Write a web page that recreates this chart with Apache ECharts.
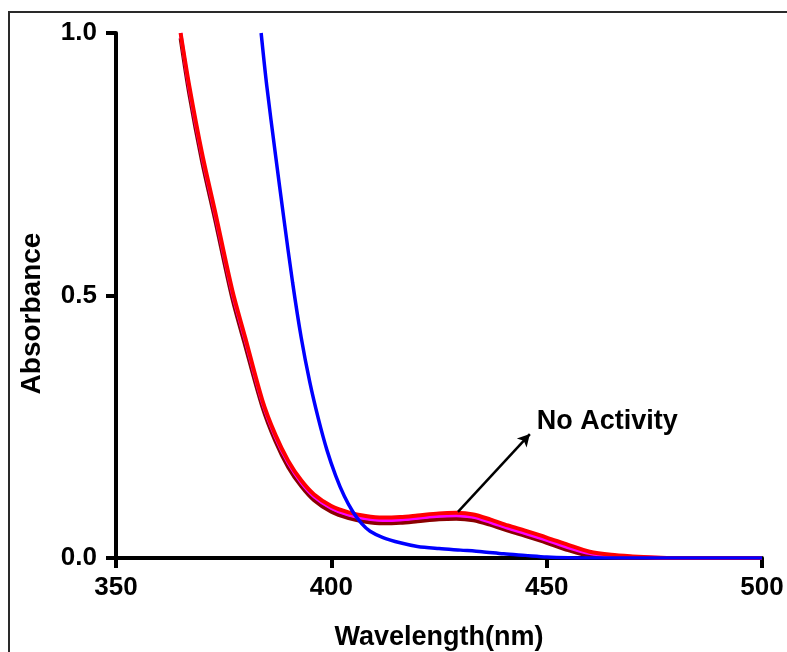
<!DOCTYPE html>
<html>
<head>
<meta charset="utf-8">
<script src="https://cdn.jsdelivr.net/npm/echarts@6/dist/echarts.min.js"></script>
<style>
  html, body { margin: 0; padding: 0; background: #fff; }
  #frame { position: absolute; left: 8px; top: 11px; width: 800px; height: 700px;
           border-left: 2px solid #2a2a2a; border-top: 2px solid #2a2a2a; }
  #chart { position: absolute; left: 0; top: 0; width: 787px; height: 652px; }
</style>
</head>
<body>
<div id="frame"></div>
<div id="chart"></div>
<script>
// wavelength (nm) / absorbance
const wlRed = [365, 367, 370, 373, 377, 380, 384, 387, 390, 393, 396, 400, 404, 408, 412, 416, 420, 425, 429, 433, 437, 441, 445, 450, 455, 460, 465, 470, 475, 480, 500];
const absRed = [1.0, 0.90, 0.77, 0.66, 0.51, 0.42, 0.30, 0.235, 0.185, 0.148, 0.121, 0.099, 0.087, 0.080, 0.077, 0.078, 0.081, 0.085, 0.086, 0.083, 0.073, 0.062, 0.052, 0.039, 0.025, 0.012, 0.006, 0.003, 0.001, 0, 0];
const absMagenta = [1.0, 0.895, 0.765, 0.655, 0.505, 0.415, 0.296, 0.231, 0.181, 0.144, 0.117, 0.095, 0.082, 0.075, 0.072, 0.073, 0.076, 0.080, 0.081, 0.078, 0.068, 0.057, 0.047, 0.034, 0.020, 0.009, 0.004, 0.002, 0.001, 0, 0];
const absMaroon = [0.99, 0.885, 0.755, 0.645, 0.495, 0.405, 0.288, 0.223, 0.173, 0.137, 0.110, 0.088, 0.076, 0.069, 0.066, 0.067, 0.070, 0.074, 0.075, 0.072, 0.063, 0.052, 0.042, 0.029, 0.015, 0.004, 0.001, 0, 0, 0, 0];

const wlBlue = [383.7, 385, 387, 389, 391, 393, 395, 397, 399, 401, 403, 405, 407, 409, 412, 416, 420, 425, 430, 435, 440, 445, 450, 455, 460, 500];
const absBlue = [1.0, 0.90, 0.77, 0.645, 0.525, 0.42, 0.335, 0.265, 0.205, 0.157, 0.118, 0.088, 0.066, 0.051, 0.039, 0.029, 0.022, 0.018, 0.015, 0.012, 0.008, 0.005, 0.002, 0.0005, 0, 0];

const xTicks = [350, 400, 450, 500];

// arrow + label for the annotation, in data units
const arrowFrom = [429.4, 0.088];
const arrowTo = [446.1, 0.236];
const noteAt = [447.7, 0.26];

const FONT = 'Liberation Sans, Arial, sans-serif';

const pairs = (xs, ys) => xs.map((x, i) => [x, ys[i]]);

const chart = echarts.init(document.getElementById('chart'));

const lineSeries = (name, xs, ys, color, width) => ({
  name: name,
  type: 'line',
  data: pairs(xs, ys),
  showSymbol: false,
  smooth: 0.3,
  lineStyle: { color: color, width: width },
  itemStyle: { color: color },
  z: 2
});

const option = {
  animation: false,
  backgroundColor: 'transparent',
  grid: { left: 116, right: 25, top: 33, bottom: 94, containLabel: false, outerBoundsMode: 'none' },
  xAxis: {
    type: 'value',
    min: 350, max: 500, interval: 50,
    name: 'Wavelength(nm)',
    nameLocation: 'middle',
    nameGap: 66,
    nameTextStyle: { fontSize: 27, fontWeight: 'bold', color: '#000', fontFamily: FONT },
    axisLine: { lineStyle: { color: '#000', width: 4 } },
    axisTick: { length: 10, lineStyle: { color: '#000', width: 4 } },
    axisLabel: {
      margin: 17, fontSize: 26, fontWeight: 'bold', color: '#000', fontFamily: FONT,
      customValues: xTicks
    },
    splitLine: { show: false }
  },
  yAxis: {
    type: 'value',
    min: 0, max: 1, interval: 0.5,
    name: 'Absorbance',
    nameLocation: 'middle',
    nameRotate: 90,
    nameGap: 70,
    nameTextStyle: { fontSize: 28, fontWeight: 'bold', color: '#000', fontFamily: FONT, padding: [0, 36, 0, 0] },
    axisLine: { lineStyle: { color: '#000', width: 4 } },
    axisTick: { length: 10, lineStyle: { color: '#000', width: 4 } },
    axisLabel: {
      margin: 19, fontSize: 26, fontWeight: 'bold', color: '#000', fontFamily: FONT,
      formatter: v => v.toFixed(1)
    },
    splitLine: { show: false }
  },
  series: [
    lineSeries('Maroon', wlRed, absMaroon, '#8b0000', 4),
    lineSeries('Magenta', wlRed, absMagenta, '#ff00ff', 3.5),
    lineSeries('Red', wlRed, absRed, '#ff0000', 4),
    Object.assign(lineSeries('Blue', wlBlue, absBlue, '#0000ff', 3.5), {
      markLine: {
        silent: true,
        symbol: ['none', 'arrow'],
        symbolSize: [10, 12],
        lineStyle: { color: '#000', width: 2.5, type: 'solid' },
        label: { show: false },
        data: [[{ coord: arrowFrom }, { coord: arrowTo }]]
      },
      markPoint: {
        silent: true,
        symbol: 'circle',
        symbolSize: 0,
        label: {
          show: true,
          position: [0, 0],
          align: 'left',
          verticalAlign: 'middle',
          formatter: 'No Activity',
          fontSize: 27, fontWeight: 'bold', color: '#000', fontFamily: FONT
        },
        data: [{ coord: noteAt }]
      }
    })
  ]
};

chart.setOption(option);
</script>
</body>
</html>
